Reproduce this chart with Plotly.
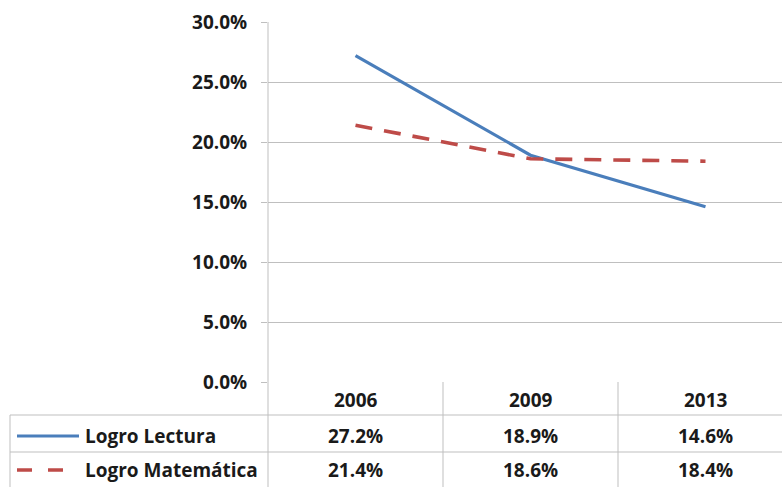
import plotly.graph_objects as go

years = ["2006", "2009", "2013"]
lectura = [0.272, 0.189, 0.146]
matematica = [0.214, 0.186, 0.184]
series_names = ["Logro Lectura", "Logro Matemática"]
y_ticks = [0, 0.05, 0.10, 0.15, 0.20, 0.25, 0.30]

BLUE = "#4a7ebb"
RED = "#be4b48"
GRID = "#bfbfbf"
TXT = "#1a1a1a"
FONT = "Open Sans"

W, H = 782, 487
L, R, T, B = 268, 0, 22, 105
ph = H - T - B
pw = W - L - R

def py(ypx):
    return (H - B - ypx) / ph

def px(xpx):
    return (xpx - L) / pw

fig = go.Figure()
fig.add_trace(go.Scatter(x=years, y=lectura, mode="lines", name=series_names[0],
                         line=dict(color=BLUE, width=3.2), showlegend=False))
fig.add_trace(go.Scatter(x=years, y=matematica, mode="lines", name=series_names[1],
                         line=dict(color=RED, width=3.6, dash="17px,12px"), showlegend=False))

shapes = []
line_style = dict(color=GRID, width=1)
for ypx in (415, 452):
    shapes.append(dict(type="line", xref="paper", yref="paper", x0=px(10), x1=1,
                       y0=py(ypx), y1=py(ypx), line=line_style))
shapes.append(dict(type="line", xref="paper", yref="paper", x0=px(10), x1=px(10),
                   y0=py(415), y1=py(H), line=line_style))
shapes.append(dict(type="line", xref="paper", yref="paper", x0=0, x1=0,
                   y0=1, y1=py(H), line=line_style))
for i in range(len(years) - 1):
    shapes.append(dict(type="line", xref="x", yref="paper", x0=i + 0.5, x1=i + 0.5,
                       y0=0, y1=py(H), line=line_style))
shapes.append(dict(type="line", xref="paper", yref="paper", x0=px(17), x1=px(79),
                   y0=py(436), y1=py(436), line=dict(color=BLUE, width=3.2)))
shapes.append(dict(type="line", xref="paper", yref="paper", x0=px(17), x1=px(65),
                   y0=py(470), y1=py(470), line=dict(color=RED, width=3.6, dash="15px,16px")))

annotations = []
fs = 19
def f(size=fs):
    return dict(size=size, family=FONT, color=TXT, weight="bold")

for i, yr in enumerate(years):
    annotations.append(dict(x=i, y=py(400), xref="x", yref="paper", text=yr, yanchor="middle",
                            showarrow=False, font=f()))
    annotations.append(dict(x=i, y=py(436), xref="x", yref="paper", text=f"{lectura[i]*100:.1f}%",
                            yanchor="middle", showarrow=False, font=f()))
    annotations.append(dict(x=i, y=py(470), xref="x", yref="paper", text=f"{matematica[i]*100:.1f}%",
                            yanchor="middle", showarrow=False, font=f()))
for name, ypx in zip(series_names, (436, 470)):
    annotations.append(dict(x=px(83), y=py(ypx), xref="paper", yref="paper", text=name,
                            xanchor="left", yanchor="middle", showarrow=False, font=f()))

fig.update_layout(
    width=W, height=H,
    margin=dict(l=L, r=R, t=T, b=B),
    paper_bgcolor="white", plot_bgcolor="white",
    font=f(),
    xaxis=dict(range=[-0.5, -0.5 + pw / 175.0], showticklabels=False, showgrid=False,
               zeroline=False, showline=False, ticks=""),
    yaxis=dict(range=[0, 0.30], tickvals=y_ticks, tickformat=".1%", showgrid=True,
               gridcolor=GRID, gridwidth=1, zeroline=False, showline=False,
               ticks="outside", ticklen=6, tickcolor=GRID, ticklabelstandoff=10),
    shapes=shapes,
    annotations=annotations,
)

fig.write_html("out.html", config={"displayModeBar": False},
               post_script="document.body.style.margin='0';document.body.style.overflow='hidden';")
